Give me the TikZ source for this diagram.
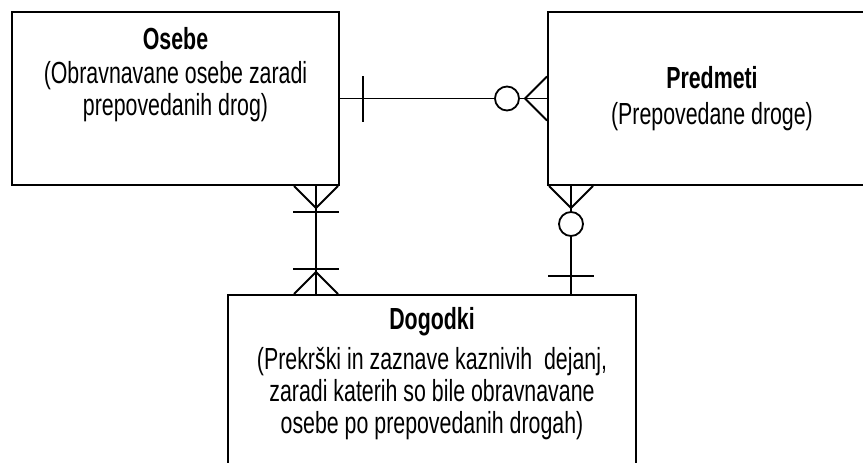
\documentclass[tikz,border=0pt]{standalone}
\usepackage{fontspec}
\setmainfont[FakeStretch=0.7]{Liberation Sans}
\usetikzlibrary{positioning, calc, decorations.markings}
\tikzset{
  skatla/.style={draw=black, line width=2pt, fill=white, inner sep=0pt,
    anchor=north west},
  napis/.style={align=center, inner sep=0pt, font=\fontsize{30.5}{32}\selectfont},
  veza/.style={draw=black, line width=1.8pt},
  kraciZacetek/.style={postaction={decorate, decoration={markings,
    mark=at position 22pt with {\draw[veza] (-22pt,-22pt) -- (0pt,0pt) -- (-22pt,22pt);}}}},
  kraciKonec/.style={postaction={decorate, decoration={markings,
    mark=at position -22pt with {\draw[veza] (22pt,-22pt) -- (0pt,0pt) -- (22pt,22pt);}}}},
  crtica/.style={postaction={decorate, decoration={markings,
    mark=at position #1 with {\draw[veza] (0pt,-23pt) -- (0pt,23pt);}}}},
  krogec/.style={postaction={decorate, decoration={markings,
    mark=at position #1 with {\draw[veza, fill=white] (0pt,0pt) circle (12pt);}}}},
}
\begin{document}
\begin{tikzpicture}[x=1pt, y=-1pt]
  \useasboundingbox (0,0) rectangle (863,463);

  \node[skatla, minimum width=327pt, minimum height=173pt] (osebe) at (11,11) {};
  \node[skatla, minimum width=328pt, minimum height=173pt] (predmeti) at (547,11) {};
  \node[skatla, minimum width=408pt, minimum height=180pt] (dogodki) at (227,294) {};

  \node[napis, below=16pt of osebe.north] (osebeNapis)
    {\textbf{Osebe}\\[2pt](Obravnavane osebe zaradi\\prepovedanih drog)};
  \node[napis] (predmetiNapis) at (predmeti.center)
    {\textbf{Predmeti}\\[4pt](Prepovedane droge)};
  \node[napis, below=13pt of dogodki.north] (dogodkiNapis)
    {\textbf{Dogodki}\\[8pt](Prekrški in zaznave kaznivih\ \ dejanj,\\zaradi katerih so bile obravnavane\\osebe po prepovedanih drogah)};

  \coordinate (osebeSpodaj) at ($(osebe.south east)+(-24,0)$);
  \coordinate (predmetiSpodaj) at ($(predmeti.south west)+(24,0)$);

  \draw[veza, crtica=23pt, krogec=-40pt, kraciKonec] (osebe) -- (predmeti);
  \draw[veza, kraciZacetek, crtica=26pt, crtica=-25pt, kraciKonec]
    (osebeSpodaj) -- (osebeSpodaj |- dogodki.north);
  \draw[veza, kraciZacetek, krogec=38pt, crtica=-18pt]
    (predmetiSpodaj) -- (predmetiSpodaj |- dogodki.north);
\end{tikzpicture}
\end{document}
